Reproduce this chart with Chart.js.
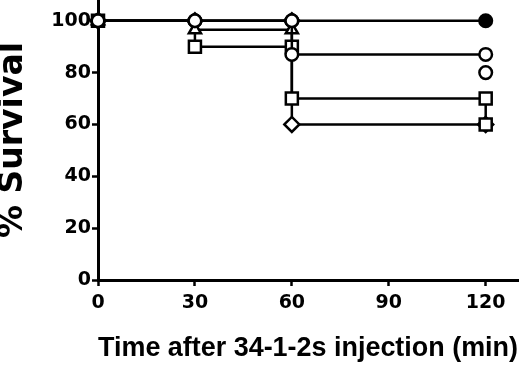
<!DOCTYPE html>
<html>
<head>
<meta charset="utf-8">
<script src="https://cdn.jsdelivr.net/npm/chart.js@4/dist/chart.umd.min.js"></script>
<style>
  html, body { margin: 0; padding: 0; background: #fff; }
  #wrap { width: 520px; height: 365px; position: relative; }
</style>
</head>
<body>
<div id="wrap"><canvas id="chart"></canvas></div>
<script>
// Survival curves, % alive at each time point (min)
const xTicks = [0, 30, 60, 90, 120];
const yTicks = [0, 20, 40, 60, 80, 100];

const filledCircleTimes = [0, 30, 60, 120];
const filledCircleSurvival = [100, 100, 100, 100];

const openCircleTimes = [0, 30, 60, 60, 120];
const openCircleSurvival = [100, 100, 100, 87, 87];

const openCircle2Times = [120];
const openCircle2Survival = [80];

const triangleTimes = [0, 30, 60];
const triangleSurvival = [100, 96.5, 96.5];

const squareTimes = [0, 30, 60, 60, 120, 120];
const squareSurvival = [100, 90, 90, 70, 70, 60];

const diamondTimes = [0, 30, 60, 60, 120];
const diamondSurvival = [100, 100, 100, 60, 60];

function pts(times, values) {
  return times.map((t, i) => ({ x: t, y: values[i] }));
}

function series(times, values, style, radius, fill, showLine) {
  return {
    data: pts(times, values),
    stepped: true,
    showLine: showLine !== false,
    clip: false,
    borderColor: '#000',
    borderWidth: 2.5,
    pointStyle: style,
    pointRadius: radius,
    pointBorderWidth: 2.5,
    pointBorderColor: '#000',
    pointBackgroundColor: fill,
    fill: false,
  };
}

const tickFont = { family: 'DejaVu Sans', weight: 'bold', size: 19 };

new Chart(document.getElementById('chart'), {
  type: 'scatter',
  data: {
    datasets: [
      series(openCircleTimes, openCircleSurvival, 'circle', 6.3, '#fff'),
      series(openCircle2Times, openCircle2Survival, 'circle', 6.3, '#fff', false),
      series(filledCircleTimes, filledCircleSurvival, 'circle', 6.3, '#000'),
      series(triangleTimes, triangleSurvival, 'triangle', 7, '#fff'),
      series(squareTimes, squareSurvival, 'rect', 8.5, '#fff'),
      series(diamondTimes, diamondSurvival, 'rectRot', 7.5, '#fff'),
    ],
  },
  options: {
    responsive: true,
    maintainAspectRatio: false,
    animation: false,
    layout: { autoPadding: false, padding: { top: 0, right: 2, bottom: 0, left: 0 } },
    plugins: {
      legend: { display: false },
      tooltip: { enabled: false },
    },
    scales: {
      x: {
        type: 'linear',
        min: 0,
        max: 130,
        afterBuildTicks: (scale) => {
          scale.ticks = xTicks.map((v) => ({ value: v }));
        },
        afterFit: (scale) => {
          scale.height = 85;
          scale.paddingLeft = 0;
          scale.paddingRight = 0;
        },
        border: { display: true, color: '#000', width: 3 },
        grid: {
          drawOnChartArea: false,
          drawTicks: true,
          tickLength: 6,
          tickWidth: 2.5,
          tickColor: '#000',
        },
        ticks: { color: '#000', font: tickFont, padding: 6, maxRotation: 0 },
        title: {
          display: true,
          text: 'Time after 34-1-2s injection (min)',
          color: '#000',
          font: { family: 'Liberation Sans', weight: 'bold', size: 28 },
          padding: { top: 0, bottom: 0 },
        },
      },
      y: {
        type: 'linear',
        min: 0,
        max: 108,
        afterBuildTicks: (scale) => {
          scale.ticks = yTicks.map((v) => ({ value: v }));
        },
        afterFit: (scale) => {
          scale.width = 98;
          scale.paddingTop = 0;
          scale.paddingBottom = 0;
        },
        border: { display: true, color: '#000', width: 3 },
        grid: {
          drawOnChartArea: false,
          drawTicks: true,
          tickLength: 6,
          tickWidth: 2.5,
          tickColor: '#000',
        },
        ticks: { color: '#000', font: tickFont, padding: 1 },
        title: {
          display: true,
          text: '% Survival',
          color: '#000',
          font: { family: 'DejaVu Sans', weight: 'bold', size: 33, lineHeight: 0.8 },
          padding: { top: 0, bottom: 0 },
        },
      },
    },
  },
});
</script>
</body>
</html>
